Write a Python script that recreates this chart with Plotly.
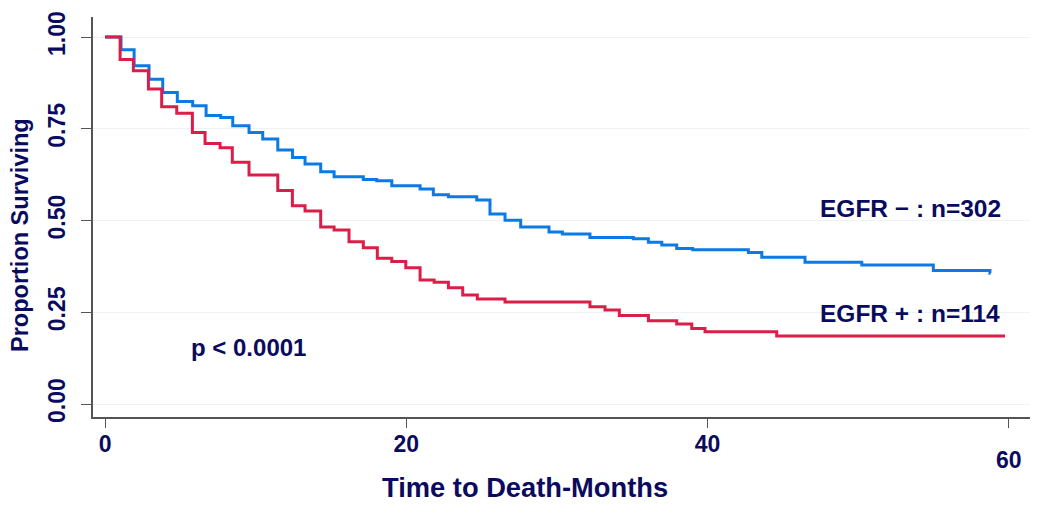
import plotly.graph_objects as go

# ---- data ----
neg_times = [0, 1.06, 1.93, 2.92, 3.83, 4.80, 5.82, 6.71, 7.68, 8.48, 9.56, 10.47, 11.47,
             12.45, 13.28, 14.32, 15.21, 17.15, 18.04, 19.04, 20.92, 21.80, 22.80, 24.68,
             25.56, 26.56, 27.60, 29.48, 30.37, 32.20, 35.08, 36.08, 36.97, 37.96, 39.02,
             42.72, 43.61, 46.48, 50.25, 55.00, 58.76]
neg_surv = [1.0, 0.965, 0.922, 0.885, 0.849, 0.824, 0.813, 0.786, 0.781, 0.758, 0.740, 0.722,
            0.692, 0.672, 0.654, 0.633, 0.619, 0.612, 0.608, 0.595, 0.586, 0.570, 0.565,
            0.556, 0.518, 0.501, 0.482, 0.469, 0.463, 0.454, 0.450, 0.441, 0.433, 0.424,
            0.420, 0.413, 0.400, 0.386, 0.379, 0.364, 0.356]
neg_end = 58.8

pos_times = [0, 1.00, 1.88, 2.88, 3.76, 4.76, 5.80, 6.64, 7.64, 8.45, 9.56, 11.47, 12.44,
             13.28, 14.32, 15.21, 16.20, 17.15, 18.08, 19.04, 19.97, 20.92, 21.85, 22.80,
             23.75, 24.72, 26.56, 32.20, 33.20, 34.15, 36.08, 37.96, 38.96, 39.84, 44.60]
pos_surv = [1.0, 0.939, 0.908, 0.858, 0.810, 0.792, 0.740, 0.710, 0.698, 0.659, 0.624, 0.582,
            0.540, 0.526, 0.482, 0.474, 0.442, 0.426, 0.397, 0.388, 0.371, 0.338, 0.332,
            0.317, 0.297, 0.286, 0.278, 0.265, 0.256, 0.241, 0.227, 0.218, 0.206, 0.197, 0.185]
pos_end = 59.76

x_tick_vals = [0, 20, 40, 60]
x_tick_text = ["0", "20", "40", ""]
y_tick_vals = [0, 0.25, 0.5, 0.75, 1.0]
y_tick_text = ["0.00", "0.25", "0.50", "0.75", "1.00"]

label_neg = "EGFR \u2212 : n=302"
label_pos = "EGFR + : n=114"
p_text = "p < 0.0001"
x_title = "Time to Death-Months"
y_title = "Proportion Surviving"

# ---- styling ----
OFF = 8  # the page body has an 8px margin
W, H = 1050 - OFF, 513 - OFF
L, R, T, B = 93 - OFF, 20, 17 - OFF, 96
NAVY = "#0a0a5e"
BLUE = "#0c7ae4"
RED = "#dc1d48"
FONT = "Liberation Sans, Arial, sans-serif"


def px(sx):
    return (sx - OFF - L) / (W - L - R)


def py(sy):
    return (H - B - (sy - OFF)) / (H - T - B)


fig = go.Figure()
fig.add_trace(go.Scatter(x=neg_times + [neg_end], y=neg_surv + [neg_surv[-1]],
                         mode="lines", line=dict(color=BLUE, width=3, shape="hv"),
                         showlegend=False, hoverinfo="skip"))
fig.add_trace(go.Scatter(x=pos_times + [pos_end], y=pos_surv + [pos_surv[-1]],
                         mode="lines", line=dict(color=RED, width=3, shape="hv"),
                         showlegend=False, hoverinfo="skip"))

fig.update_layout(
    width=W, height=H,
    margin=dict(l=L, r=R, t=T, b=B, pad=0, autoexpand=False),
    paper_bgcolor="white", plot_bgcolor="white",
    font=dict(family=FONT, color=NAVY),
    xaxis=dict(range=[-0.8, 61.42], tickmode="array", tickvals=x_tick_vals, ticktext=x_tick_text,
               showgrid=False, zeroline=False, showline=True, linecolor="#555555", linewidth=1.5,
               ticks="outside", ticklen=9, tickwidth=1, tickcolor="#555555", automargin=False,
               tickfont=dict(size=23, color=NAVY, family=FONT, weight="bold"), ticklabelstandoff=-3),
    yaxis=dict(range=[-0.0354, 1.0545], tickmode="array", tickvals=y_tick_vals, ticktext=y_tick_text,
               showgrid=True, gridcolor="#edf3f3", gridwidth=1, zeroline=False,
               showline=True, linecolor="#555555", linewidth=1.5, automargin=False,
               ticks="outside", ticklen=10, tickwidth=1, tickcolor="#555555", tickangle=-90,
               tickfont=dict(size=23, color=NAVY, family=FONT, weight="bold"), ticklabelstandoff=7),
)


def add_text(text, x, y, size, xanchor="left", angle=0):
    fig.add_annotation(text="<b>%s</b>" % text, x=px(x), y=py(y), xref="paper", yref="paper",
                       xanchor=xanchor, yanchor="middle", showarrow=False, textangle=angle,
                       font=dict(family=FONT, color=NAVY, size=size))


add_text(label_neg, 818, 208, 24.5)
add_text(label_pos, 818, 313, 24.5)
add_text(p_text, 189, 347, 24)
add_text(x_title, 525, 487, 27.3, xanchor="center")
add_text(y_title, 20, 235, 23.5, xanchor="center", angle=-90)
add_text("60", 1009, 460, 23, xanchor="center")

fig.write_html("out.html")
